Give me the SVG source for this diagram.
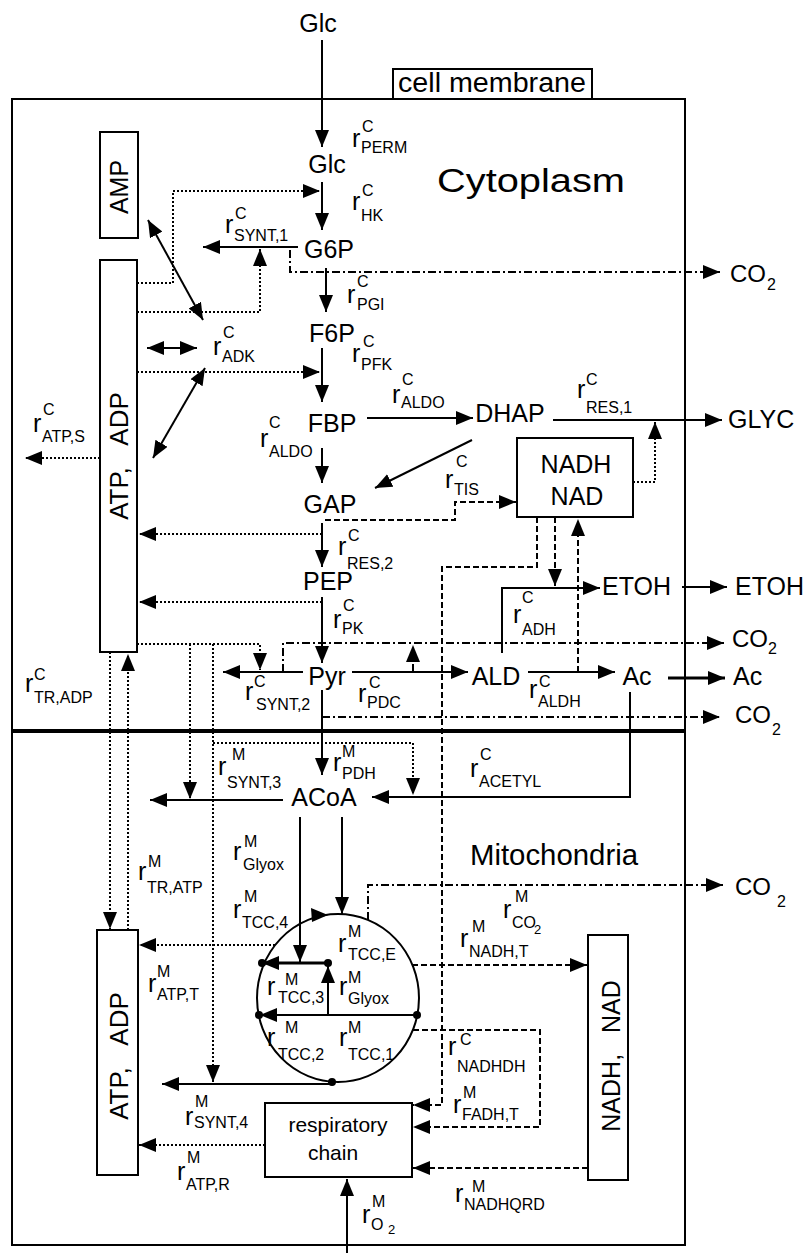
<svg xmlns="http://www.w3.org/2000/svg" width="810" height="1253" viewBox="0 0 810 1253">
<style>
text{font-family:"Liberation Sans",Arial,Helvetica,sans-serif;fill:#000}
.m{font-size:25px}
.r{font-size:25px}
.s{font-size:16px}
.ln{fill:none;stroke:#000;stroke-width:2}
.thk{stroke-width:3}
.dot{stroke-dasharray:2 2}
.dash{stroke-dasharray:6 3}
.dd{stroke-dasharray:8 3 2 3}
.box{fill:#fff;stroke:#000;stroke-width:2}
.nd{fill:#000}
</style>
<defs>
<marker id="ah" markerUnits="userSpaceOnUse" markerWidth="18" markerHeight="14" refX="17" refY="7" orient="auto-start-reverse" viewBox="0 0 18 14"><path d="M0,0 L17,7 L0,14 Z" fill="#000"/></marker>
</defs>
<rect width="810" height="1253" fill="#fff"/>
<g id="compartments">
<rect x="12" y="99" width="673" height="1146" fill="none" stroke="#000" stroke-width="2"/>
<line x1="12" y1="731" x2="685" y2="731" stroke="#000" stroke-width="4"/>
<rect x="393" y="69" width="199" height="30" class="box"/>
<text x="398" y="92" style="font-size:27px" textLength="188" lengthAdjust="spacingAndGlyphs">cell membrane</text>
<text x="437" y="192" style="font-size:33px" textLength="188" lengthAdjust="spacingAndGlyphs">Cytoplasm</text>
<text x="470" y="865" style="font-size:30px" textLength="168" lengthAdjust="spacingAndGlyphs">Mitochondria</text>
</g>
<g id="connectors">
<path class="ln" d="M322,40 V147" marker-end="url(#ah)"/>
<path class="ln" d="M322,182 V230" marker-end="url(#ah)"/>
<path class="ln" d="M298,247 H203" marker-end="url(#ah)"/>
<path class="ln" d="M326,268 V312" marker-end="url(#ah)"/>
<path class="ln" d="M322,348 V402" marker-end="url(#ah)"/>
<path class="ln" d="M367,418 H473" marker-end="url(#ah)"/>
<path class="ln" d="M322,448 V483" marker-end="url(#ah)"/>
<path class="ln" d="M472,440 L375,488" marker-end="url(#ah)"/>
<path class="ln" d="M553,420 H722" marker-end="url(#ah)"/>
<path class="ln" d="M322,523 V567" marker-end="url(#ah)"/>
<path class="ln" d="M322,597 V663" marker-end="url(#ah)"/>
<path class="ln" d="M352,672 H468" marker-end="url(#ah)"/>
<path class="ln" d="M528,672 H615" marker-end="url(#ah)"/>
<path class="ln thk" d="M668,678 H725" marker-end="url(#ah)"/>
<path class="ln" d="M502,653 V588 H600" marker-end="url(#ah)"/>
<path class="ln" d="M682,587 H727" marker-end="url(#ah)"/>
<path class="ln" d="M303,672 H223" marker-end="url(#ah)"/>
<path class="ln" d="M322,690 V775" marker-end="url(#ah)"/>
<path class="ln" d="M630,692 V797 H372" marker-end="url(#ah)"/>
<path class="ln" d="M283,800 H150" marker-end="url(#ah)"/>
<path class="ln" d="M300,817 V962" marker-end="url(#ah)"/>
<path class="ln" d="M342,817 V914" marker-end="url(#ah)"/>
<path class="ln" d="M147,348 H197" marker-start="url(#ah)" marker-end="url(#ah)"/>
<path class="ln" d="M148,220 L203,320" marker-start="url(#ah)" marker-end="url(#ah)"/>
<path class="ln" d="M205,368 L153,458" marker-start="url(#ah)" marker-end="url(#ah)"/>
<ellipse cx="338" cy="998" rx="81" ry="84" fill="none" stroke="#000" stroke-width="2"/>
<polygon points="328,915 311,908 312,922" class="nd"/>
<path class="ln thk" d="M328,963 H262" marker-end="url(#ah)"/>
<path class="ln" d="M328,1015 V966" marker-end="url(#ah)"/>
<path class="ln" d="M417,1015 H260" marker-end="url(#ah)"/>
<path class="ln" d="M332,1084 H162" marker-end="url(#ah)"/>
<path class="ln" d="M347,1253 V1179" marker-end="url(#ah)"/>
<circle cx="262" cy="963" r="4" class="nd"/>
<circle cx="328" cy="963" r="4" class="nd"/>
<circle cx="259" cy="1015" r="4" class="nd"/>
<circle cx="417" cy="1015" r="4" class="nd"/>
<circle cx="332" cy="1082" r="4" class="nd"/>
<path class="ln dot" d="M137,283 H173 V191 H320" marker-end="url(#ah)"/>
<path class="ln dot" d="M137,312 H260 V249" marker-end="url(#ah)"/>
<path class="ln dot" d="M137,372 H320" marker-end="url(#ah)"/>
<path class="ln dot" d="M322,534 H139" marker-end="url(#ah)"/>
<path class="ln dot" d="M322,602 H139" marker-end="url(#ah)"/>
<path class="ln dot" d="M137,644 H260 V670" marker-end="url(#ah)"/>
<path class="ln dot" d="M190,644 V799" marker-end="url(#ah)"/>
<path class="ln dot" d="M213,644 V1082" marker-end="url(#ah)"/>
<path class="ln dot" d="M213,743 H413 V795" marker-end="url(#ah)"/>
<path class="ln dot" d="M100,458 H25" marker-end="url(#ah)"/>
<path class="ln dot" d="M110,652 V929" marker-end="url(#ah)"/>
<path class="ln dot" d="M128,930 V654" marker-end="url(#ah)"/>
<path class="ln dot" d="M275,945 H139" marker-end="url(#ah)"/>
<path class="ln dot" d="M265,1145 H139" marker-end="url(#ah)"/>
<path class="ln dot" d="M633,482 H655 V422" marker-end="url(#ah)"/>
<path class="ln dash" d="M325,520 H455 V502 H516" marker-end="url(#ah)"/>
<path class="ln dash" d="M555,517 V586" marker-end="url(#ah)"/>
<path class="ln dash" d="M578,672 V519" marker-end="url(#ah)"/>
<path class="ln dash" d="M537,517 V567 H442 V1105 H413" marker-end="url(#ah)"/>
<path class="ln dash" d="M412,965 H587" marker-end="url(#ah)"/>
<path class="ln dash" d="M413,1030 H540 V1127 H413" marker-end="url(#ah)"/>
<path class="ln dash" d="M588,1168 H413" marker-end="url(#ah)"/>
<path class="ln dd" d="M290,250 V272 H720" marker-end="url(#ah)"/>
<path class="ln dd" d="M283,672 V643 H724" marker-end="url(#ah)"/>
<path class="ln dd" d="M413,672 V645" marker-end="url(#ah)"/>
<path class="ln dd" d="M322,717 H720" marker-end="url(#ah)"/>
<path class="ln dd" d="M368,920 V885 H723" marker-end="url(#ah)"/>
</g>
<g id="n-glc-ext"><text class="m" x="318" y="32" text-anchor="middle">Glc</text></g>
<g id="n-glc"><text class="m" x="327" y="173" text-anchor="middle">Glc</text></g>
<g id="n-g6p"><text class="m" x="329" y="258" text-anchor="middle">G6P</text></g>
<g id="n-f6p"><text class="m" x="332" y="342" text-anchor="middle">F6P</text></g>
<g id="n-fbp"><text class="m" x="332" y="432" text-anchor="middle">FBP</text></g>
<g id="n-dhap"><text class="m" x="510" y="422" text-anchor="middle">DHAP</text></g>
<g id="n-gap"><text class="m" x="330" y="513" text-anchor="middle">GAP</text></g>
<g id="n-pep"><text class="m" x="328" y="590" text-anchor="middle">PEP</text></g>
<g id="n-pyr"><text class="m" x="327" y="685" text-anchor="middle">Pyr</text></g>
<g id="n-ald"><text class="m" x="496" y="685" text-anchor="middle">ALD</text></g>
<g id="n-ac"><text class="m" x="637" y="685" text-anchor="middle">Ac</text></g>
<g id="n-ac-ext"><text class="m" x="733" y="685">Ac</text></g>
<g id="n-acoa"><text class="m" x="324" y="806" text-anchor="middle">ACoA</text></g>
<g id="n-glyc"><text class="m" x="728" y="428">GLYC</text></g>
<g id="n-etoh"><text class="m" x="602" y="595">ETOH</text></g>
<g id="n-etoh-ext"><text class="m" x="735" y="595">ETOH</text></g>
<g id="n-co2-1"><text class="m" x="730" y="282" style="font-size:24px">CO</text><text class="s" x="767" y="290">2</text></g>
<g id="n-co2-2"><text class="m" x="732" y="647" style="font-size:24px">CO</text><text class="s" x="768" y="654">2</text></g>
<g id="n-co2-3"><text class="m" x="735" y="723" style="font-size:24px">CO</text><text class="s" x="772" y="735">2</text></g>
<g id="n-co2-4"><text class="m" x="735" y="895" style="font-size:24px">CO</text><text class="s" x="777" y="907">2</text></g>
<g id="n-amp"><rect x="100" y="132" width="38" height="106" class="box"/><text class="m" transform="translate(128,187) rotate(-90)" text-anchor="middle">AMP</text></g>
<g id="n-atp-c"><rect x="100" y="260" width="37" height="392" class="box"/><text class="m" transform="translate(128,456) rotate(-90)" text-anchor="middle" style="font-size:26px">ATP,&#160;&#160;&#160;ADP</text></g>
<g id="n-atp-m"><rect x="97" y="930" width="41" height="245" class="box"/><text class="m" transform="translate(128,1056) rotate(-90)" text-anchor="middle" style="font-size:26px">ATP,&#160;&#160;&#160;ADP</text></g>
<g id="n-nadh-c"><rect x="517" y="438" width="116" height="79" class="box"/><text class="m" x="576" y="473" text-anchor="middle">NADH</text><text class="m" x="577" y="505" text-anchor="middle">NAD</text></g>
<g id="n-nadh-m"><rect x="588" y="935" width="40" height="245" class="box"/><text class="m" transform="translate(620,1056) rotate(-90)" text-anchor="middle">NADH,&#160;&#160;&#160;NAD</text></g>
<g id="n-resp"><rect x="265" y="1103" width="147" height="74" class="box"/><text x="338" y="1132" text-anchor="middle" style="font-size:21px">respiratory</text><text x="333" y="1160" text-anchor="middle" style="font-size:21px">chain</text></g>
<g id="labels">
<text class="r" x="352" y="147">r</text><text class="s" x="362" y="132">C</text><text class="s" x="361" y="153">PERM</text>
<text class="r" x="352" y="210">r</text><text class="s" x="362" y="196">C</text><text class="s" x="361" y="221">HK</text>
<text class="r" x="225" y="233">r</text><text class="s" x="235" y="219">C</text><text class="s" x="234" y="241">SYNT,1</text>
<text class="r" x="347" y="303">r</text><text class="s" x="357" y="287">C</text><text class="s" x="357" y="310">PGI</text>
<text class="r" x="352" y="362">r</text><text class="s" x="363" y="347">C</text><text class="s" x="361" y="370">PFK</text>
<text class="r" x="392" y="403">r</text><text class="s" x="402" y="385">C</text><text class="s" x="401" y="408">ALDO</text>
<text class="r" x="260" y="447">r</text><text class="s" x="269" y="428">C</text><text class="s" x="269" y="457">ALDO</text>
<text class="r" x="445" y="488">r</text><text class="s" x="456" y="467">C</text><text class="s" x="454" y="495">TIS</text>
<text class="r" x="338" y="555">r</text><text class="s" x="348" y="541">C</text><text class="s" x="347" y="569">RES,2</text>
<text class="r" x="333" y="628">r</text><text class="s" x="343" y="611">C</text><text class="s" x="342" y="634">PK</text>
<text class="r" x="577" y="398">r</text><text class="s" x="586" y="385">C</text><text class="s" x="586" y="413">RES,1</text>
<text class="r" x="213" y="355">r</text><text class="s" x="223" y="338">C</text><text class="s" x="222" y="362">ADK</text>
<text class="r" x="33" y="432">r</text><text class="s" x="43" y="415">C</text><text class="s" x="42" y="442">ATP,S</text>
<text class="r" x="25" y="692">r</text><text class="s" x="34" y="680">C</text><text class="s" x="34" y="703">TR,ADP</text>
<text class="r" x="245" y="700">r</text><text class="s" x="254" y="687">C</text><text class="s" x="256" y="710">SYNT,2</text>
<text class="r" x="358" y="702">r</text><text class="s" x="369" y="688">C</text><text class="s" x="367" y="708">PDC</text>
<text class="r" x="529" y="698">r</text><text class="s" x="539" y="687">C</text><text class="s" x="538" y="707">ALDH</text>
<text class="r" x="513" y="623">r</text><text class="s" x="522" y="603">C</text><text class="s" x="522" y="635">ADH</text>
<text class="r" x="333" y="771">r</text><text class="s" x="342" y="757">M</text><text class="s" x="342" y="779">PDH</text>
<text class="r" x="470" y="777">r</text><text class="s" x="480" y="760">C</text><text class="s" x="479" y="787">ACETYL</text>
<text class="r" x="218" y="775">r</text><text class="s" x="232" y="760">M</text><text class="s" x="227" y="788">SYNT,3</text>
<text class="r" x="233" y="860">r</text><text class="s" x="244" y="847">M</text><text class="s" x="243" y="870">Glyox</text>
<text class="r" x="233" y="918">r</text><text class="s" x="244" y="902">M</text><text class="s" x="242" y="928">TCC,4</text>
<text class="r" x="138" y="880">r</text><text class="s" x="148" y="867">M</text><text class="s" x="147" y="893">TR,ATP</text>
<text class="r" x="148" y="992">r</text><text class="s" x="157" y="977">M</text><text class="s" x="157" y="1000">ATP,T</text>
<text class="r" x="185" y="1125">r</text><text class="s" x="195" y="1107">M</text><text class="s" x="194" y="1128">SYNT,4</text>
<text class="r" x="177" y="1180">r</text><text class="s" x="187" y="1163">M</text><text class="s" x="186" y="1190">ATP,R</text>
<text class="r" x="338" y="952">r</text><text class="s" x="348" y="937">M</text><text class="s" x="348" y="960">TCC,E</text>
<text class="r" x="267" y="995">r</text><text class="s" x="285" y="985">M</text><text class="s" x="278" y="1003">TCC,3</text>
<text class="r" x="339" y="995">r</text><text class="s" x="348" y="983">M</text><text class="s" x="348" y="1004">Glyox</text>
<text class="r" x="267" y="1046">r</text><text class="s" x="285" y="1033">M</text><text class="s" x="278" y="1060">TCC,2</text>
<text class="r" x="339" y="1046">r</text><text class="s" x="348" y="1033">M</text><text class="s" x="348" y="1060">TCC,1</text>
<text class="r" x="460" y="947">r</text><text class="s" x="472" y="932">M</text><text class="s" x="469" y="957">NADH,T</text>
<text class="r" x="503" y="918">r</text><text class="s" x="515" y="902">M</text><text class="s" x="512" y="928">CO</text><text class="s" x="534" y="934" style="font-size:13px">2</text>
<text class="r" x="448" y="1055">r</text><text class="s" x="460" y="1045">C</text><text class="s" x="457" y="1072">NADHDH</text>
<text class="r" x="453" y="1113">r</text><text class="s" x="463" y="1098">M</text><text class="s" x="462" y="1120">FADH,T</text>
<text class="r" x="455" y="1202">r</text><text class="s" x="472" y="1192">M</text><text class="s" x="464" y="1210">NADHQRD</text>
<text class="r" x="362" y="1223">r</text><text class="s" x="372" y="1207">M</text><text class="s" x="371" y="1230">O</text><text class="s" x="388" y="1234" style="font-size:13px">2</text>
</g>
</svg>
